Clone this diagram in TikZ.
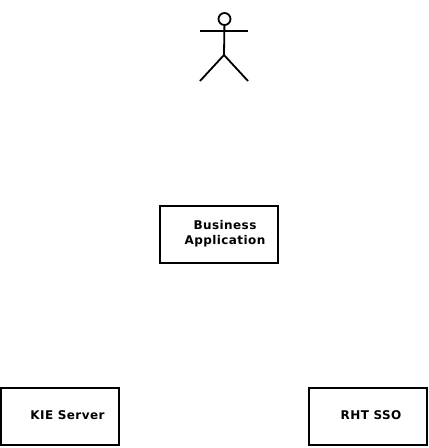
\documentclass[tikz,border=0pt]{standalone}
\usepackage{fontspec}
\setmainfont{DejaVu Sans}
\newfontfamily\labelfont[LetterSpace=3.5]{DejaVu Sans}
\begin{document}
\begin{tikzpicture}[x=1pt,y=-1pt,
  sysbox/.style={draw=black,line width=2pt,fill=white,minimum width=118pt,minimum height=57pt,inner sep=0pt},
  boxtext/.style={inner sep=0pt,align=center,font=\fontsize{12}{15}\labelfont\bfseries},
  stick/.style={draw=black,line width=1.8pt}]
\useasboundingbox (0,0) rectangle (429,448);
\node[sysbox] (app) at (219,234) {};
\node[sysbox] (kie) at (60,416) {};
\node[sysbox] (sso) at (368,416) {};
\node[boxtext] (apptext) at (225,233.5) {Business\\Application};
\node[boxtext] (kietext) at (67.5,415) {KIE Server};
\node[boxtext] (ssotext) at (371,415) {RHT SSO};
\node[stick,circle,minimum size=12pt,inner sep=0pt] (head) at (224.5,19) {};
\coordinate (larm) at (200,31);
\coordinate (rarm) at (248,31);
\coordinate (hip) at (224,55);
\coordinate (lfoot) at (200,81);
\coordinate (rfoot) at (248,81);
\draw[stick] (head) -- (hip);
\draw[stick] (larm) -- (rarm);
\draw[stick] (lfoot) -- (hip) -- (rfoot);
\end{tikzpicture}
\end{document}
